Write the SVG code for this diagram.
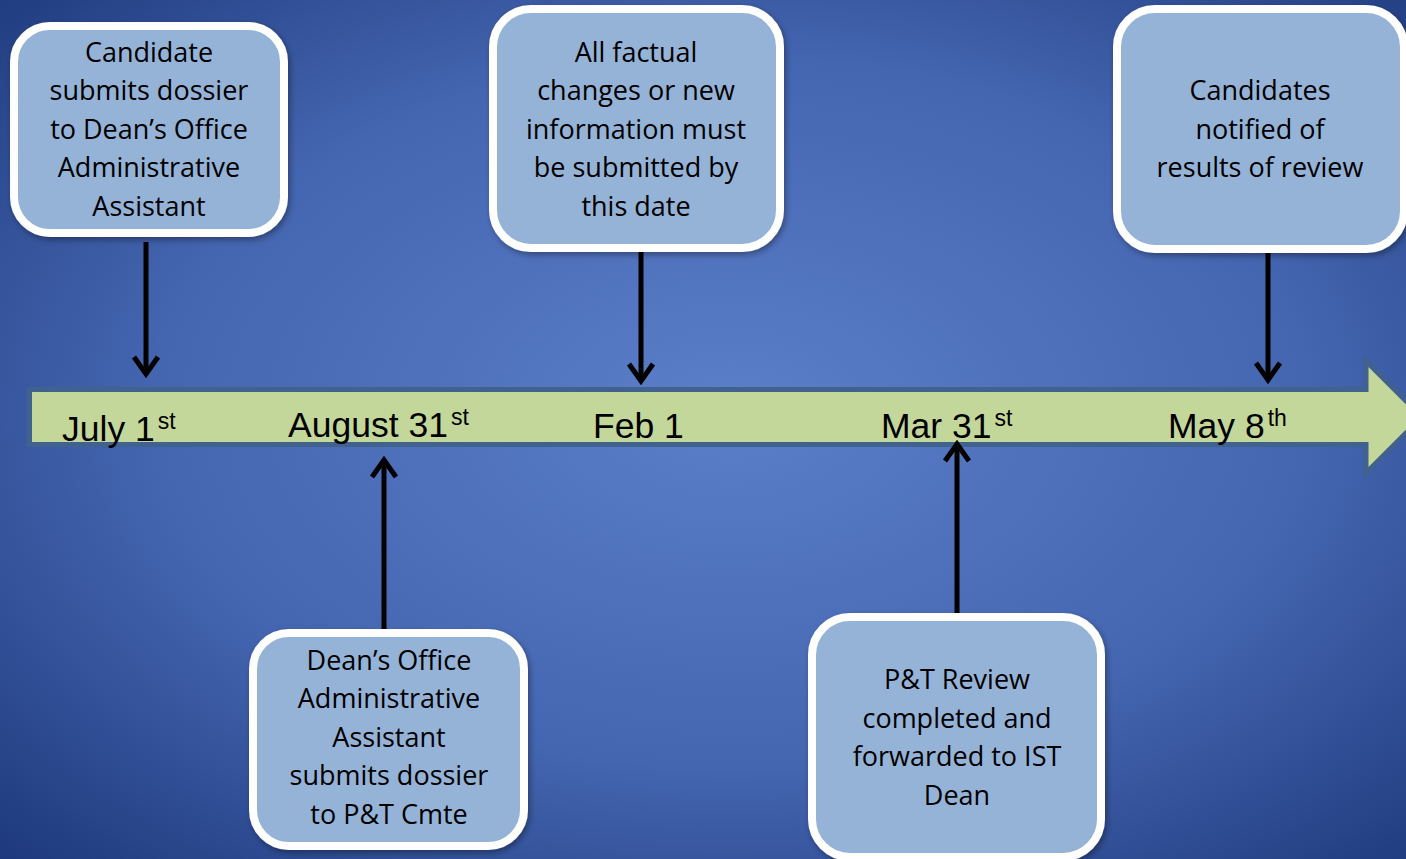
<svg xmlns="http://www.w3.org/2000/svg" width="1406" height="859" viewBox="0 0 1406 859">
  <defs>
    <radialGradient id="bg" cx="52%" cy="48%" r="75%">
      <stop offset="0" stop-color="#5c7fca"/>
      <stop offset="0.55" stop-color="#4465b0"/>
      <stop offset="1" stop-color="#1c377a"/>
    </radialGradient>
    <filter id="shadow" x="-10%" y="-10%" width="120%" height="120%">
      <feDropShadow dx="2" dy="3" stdDeviation="3" flood-color="#000" flood-opacity="0.35"/>
    </filter>
    <marker id="head" viewBox="-24 -16 28 32" refX="0" refY="0" markerWidth="28" markerHeight="32" markerUnits="userSpaceOnUse" orient="auto">
      <path d="M-17,-12 L0,0 L-17,12" fill="none" stroke="#000" stroke-width="5" stroke-linecap="butt" stroke-linejoin="miter"/>
    </marker>
    <style>
      .box { fill: #95b3d7; stroke: #ffffff; stroke-width: 8; filter: url(#shadow); }
      .lbl { font-family: "Open Sans", "Noto Sans", sans-serif; font-size: 27px; fill: #000; text-anchor: middle; }
      .date { font-family: "Liberation Sans", Arial, sans-serif; font-size: 35.5px; fill: #000; }
      .sup { font-size: 23px; }
      .conn { stroke: #000; stroke-width: 5; fill: none; marker-end: url(#head); }
    </style>
  </defs>

  <rect x="0" y="0" width="1406" height="859" fill="url(#bg)"/>

  <g id="timeline">
    <polygon points="29.5,389.5 1366,389.5 1366,361 1422,417 1366,473 1366,444.5 29.5,444.5" fill="#c4d79b" stroke="#41618f" stroke-width="5" stroke-linejoin="miter"/>
    <text class="date" x="62" y="441">July 1<tspan class="sup" dx="3" dy="-12">st</tspan></text>
    <text class="date" x="288" y="437">August 31<tspan class="sup" dx="3" dy="-12">st</tspan></text>
    <text class="date" x="593" y="438">Feb 1</text>
    <text class="date" x="881" y="438">Mar 31<tspan class="sup" dx="3" dy="-12">st</tspan></text>
    <text class="date" x="1168" y="438">May 8<tspan class="sup" dx="3" dy="-12">th</tspan></text>
  </g>

  <g id="connectors">
    <line class="conn" x1="146" y1="242" x2="146" y2="374"/>
    <line class="conn" x1="641" y1="250" x2="641" y2="381"/>
    <line class="conn" x1="1268" y1="250" x2="1268" y2="380"/>
    <line class="conn" x1="384" y1="629" x2="384" y2="460"/>
    <line class="conn" x1="957" y1="613" x2="957" y2="444"/>
  </g>

  <g id="node-candidate">
    <rect class="box" x="14" y="26" width="270" height="207" rx="36"/>
    <text class="lbl" x="149" y="62">Candidate</text>
    <text class="lbl" x="149" y="100">submits dossier</text>
    <text class="lbl" x="149" y="139">to Dean’s Office</text>
    <text class="lbl" x="149" y="177">Administrative</text>
    <text class="lbl" x="149" y="216">Assistant</text>
  </g>

  <g id="node-factual">
    <rect class="box" x="493" y="9" width="287" height="239" rx="38"/>
    <text class="lbl" x="636" y="62">All factual</text>
    <text class="lbl" x="636" y="100">changes or new</text>
    <text class="lbl" x="636" y="139">information must</text>
    <text class="lbl" x="636" y="177">be submitted by</text>
    <text class="lbl" x="636" y="216">this date</text>
  </g>

  <g id="node-notified">
    <rect class="box" x="1117" y="9" width="287" height="240" rx="38"/>
    <text class="lbl" x="1260" y="100">Candidates</text>
    <text class="lbl" x="1260" y="139">notified of</text>
    <text class="lbl" x="1260" y="177">results of review</text>
  </g>

  <g id="node-deans-office">
    <rect class="box" x="253" y="633" width="271" height="213" rx="36"/>
    <text class="lbl" x="389" y="670">Dean’s Office</text>
    <text class="lbl" x="389" y="708">Administrative</text>
    <text class="lbl" x="389" y="747">Assistant</text>
    <text class="lbl" x="389" y="785">submits dossier</text>
    <text class="lbl" x="389" y="824">to P&amp;T Cmte</text>
  </g>

  <g id="node-review">
    <rect class="box" x="812" y="617" width="289" height="240" rx="38"/>
    <text class="lbl" x="957" y="689">P&amp;T Review</text>
    <text class="lbl" x="957" y="728">completed and</text>
    <text class="lbl" x="957" y="766">forwarded to IST</text>
    <text class="lbl" x="957" y="805">Dean</text>
  </g>
</svg>
